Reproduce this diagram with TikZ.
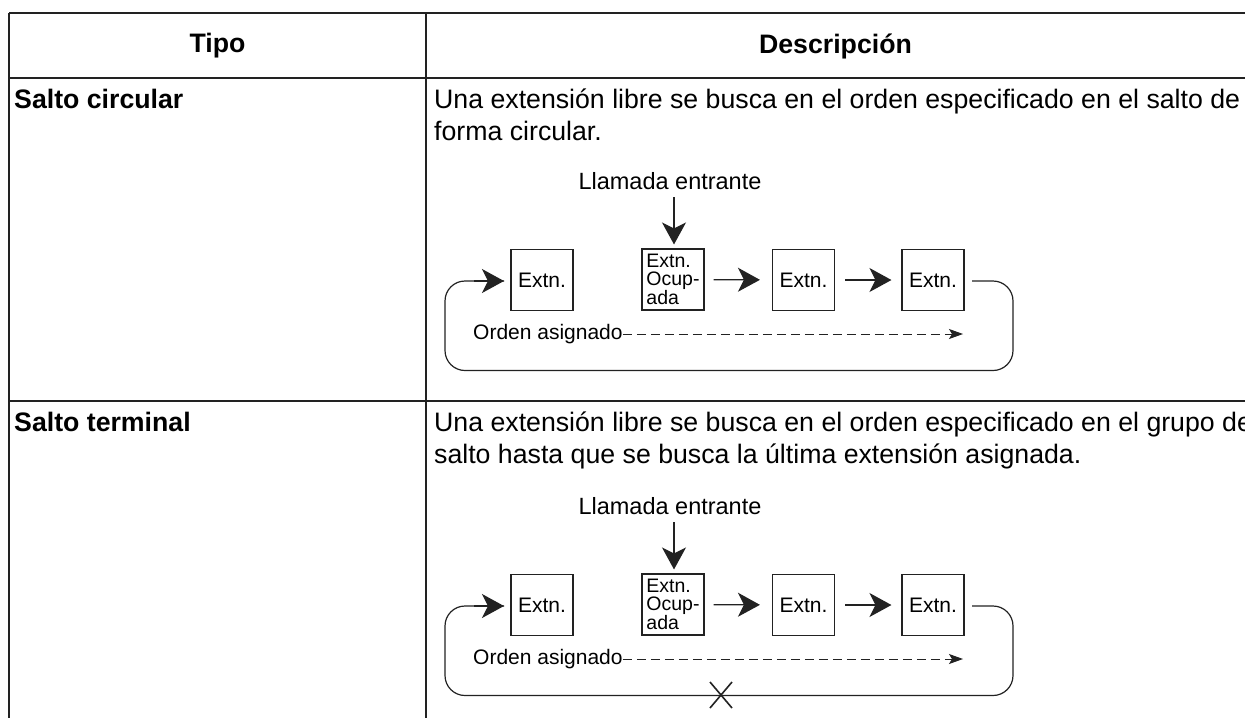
\documentclass[tikz,border=0pt]{standalone}
\usepackage{fontspec}
\setmainfont{Liberation Sans}
\usetikzlibrary{arrows.meta}
\definecolor{ln}{HTML}{222222}
\begin{document}
\begin{tikzpicture}[x=1pt,y=-1pt,
  tline/.style={draw=ln, line width=1.4pt},
  body/.style={inner sep=0pt, anchor=base west, font=\fontsize{26.7}{31}\selectfont},
  bodyb/.style={body, font=\fontsize{26.7}{31}\selectfont\bfseries},
  hdr/.style={inner sep=0pt, font=\fontsize{26.7}{31}\selectfont\bfseries},
  extbox/.style={draw=ln, line width=1.1pt, minimum width=62pt, minimum height=61pt, inner sep=0pt, font=\fontsize{21}{24}\selectfont},
  busybox/.style={extbox, align=left, font=\fontsize{19.5}{18}\selectfont},
  bigarrow/.style={draw=ln, line width=1.3pt, -{Stealth[length=22pt,width=24pt,inset=6pt]}},
  loopline/.style={draw=ln, line width=1.2pt, rounded corners=20pt},
  dasharrow/.style={draw=ln, line width=1pt, dash pattern=on 9pt off 5pt, -{Stealth[length=14pt,width=10pt,inset=3pt]}},
  lbl/.style={inner sep=0pt, font=\fontsize{23.5}{26}\selectfont},
  olbl/.style={inner sep=0pt, anchor=west, font=\fontsize{21}{24}\selectfont},
  cross/.style={draw=ln, line width=1.6pt}
]
\useasboundingbox (0,0) rectangle (1245,718);
\fill[white] (0,0) rectangle (1245,718);

% table rules
\coordinate (tl) at (9,13);
\coordinate (tr) at (1245,13);
\coordinate (hl) at (9,78);
\coordinate (hr) at (1245,78);
\coordinate (rl) at (9,401);
\coordinate (rr) at (1245,401);
\coordinate (bl) at (9,718);
\coordinate (ct) at (426,13);
\coordinate (cb) at (426,718);
\draw[tline] (tl) -- (tr);
\draw[tline] (hl) -- (hr);
\draw[tline] (rl) -- (rr);
\draw[tline] (tl) -- (bl);
\draw[tline] (ct) -- (cb);

% headers
\node[hdr] (tipo) at (217.5,46) {Tipo};
\node[hdr] (desc) at (835.5,46) {Descripción};

% row texts
\node[bodyb] (t1) at (14,108) {Salto circular};
\node[body] (d1a) at (434,108) {Una extensión libre se busca en el orden especificado en el salto de};
\node[body] (d1b) at (434,140) {forma circular.};
\node[bodyb] (t2) at (14,431) {Salto terminal};
\node[body] (d2a) at (434,431) {Una extensión libre se busca en el orden especificado en el grupo de};
\node[body] (d2b) at (434,463) {salto hasta que se busca la última extensión asignada.};

% diagrams
\foreach \d/\s in {a/0,b/325}{
\begin{scope}[yshift=-\s pt]
  \node[lbl] (\d ll) at (670,181) {Llamada entrante};
  \node[extbox] (\d 1) at (542,280) {Extn.};
  \node[busybox] (\d 2) at (673,279.5) {Extn.\\Ocup-\\ada};
  \node[extbox] (\d 3) at (803.5,280) {Extn.};
  \node[extbox] (\d 4) at (933,280) {Extn.};
  \coordinate (\d in) at (674,197);
  \draw[bigarrow, shorten >=4pt] (\d in) -- (\d in |- \d 2.north);
  \draw[bigarrow, shorten <=9pt, shorten >=12pt] (\d 2) -- (\d 3);
  \draw[bigarrow, shorten <=10pt, shorten >=10pt] (\d 3) -- (\d 4);
  \coordinate (\d c1) at (1013,281);
  \coordinate (\d c2) at (1013,370.5);
  \coordinate (\d c3) at (445,370.5);
  \coordinate (\d c4) at (445,281);
  \coordinate (\d s) at (972,281);
  \coordinate (\d e) at (504,281);
  \draw[loopline] (\d s) -- (\d c1) -- (\d c2) -- (\d c3) -- (\d c4) -- (\d e);
  \draw[bigarrow] ([xshift=-30pt]\d e) -- (\d e);
  \node[olbl] (\d oa) at (473,334) {Orden asignado};
  \coordinate (\d oe) at (963,334);
  \draw[dasharrow] (\d oa.east) -- (\d oe);
\end{scope}
}
\coordinate (x1) at (710,682);
\coordinate (x2) at (732,708);
\coordinate (x3) at (710,708);
\coordinate (x4) at (732,682);
\draw[cross] (x1) -- (x2);
\draw[cross] (x3) -- (x4);
\end{tikzpicture}
\end{document}
